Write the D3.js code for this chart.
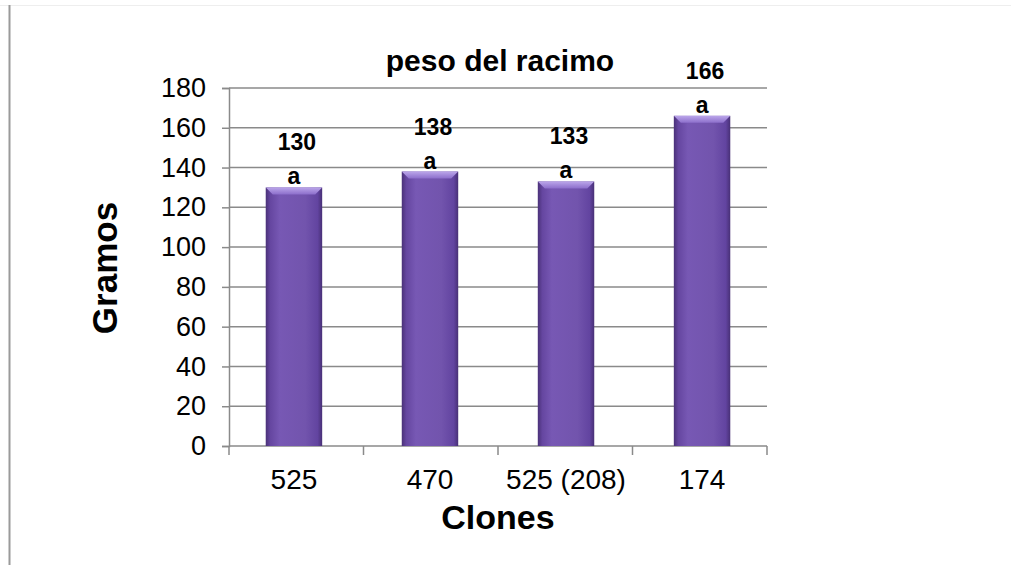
<!DOCTYPE html>
<html>
<head>
<meta charset="utf-8">
<script src="https://cdn.jsdelivr.net/npm/d3@7"></script>
<style>
  html, body { margin: 0; padding: 0; background: #fff; }
  svg { display: block; }
  .tick text { font-family: Arial, "Liberation Sans", sans-serif; font-size: 27px; fill: #000; }
  .cond { font-family: "Liberation Sans Narrow", "Arial Narrow", "Liberation Sans", sans-serif; font-weight: bold; }
  .lbl { font-family: Arial, "Liberation Sans", sans-serif; }
</style>
</head>
<body>
<svg id="chart" width="1011" height="565"></svg>
<script>
// Bunch weight per clone (grams) with significance letters
const clones = ["525", "470", "525 (208)", "174"];
const weights = [130, 138, 133, 166];
const letters = ["a", "a", "a", "a"];
const yTicks = [0, 20, 40, 60, 80, 100, 120, 140, 160, 180];

const svg = d3.select("#chart");
const W = 1011, H = 565;
const plot = { left: 229, right: 767, top: 88, bottom: 446 };

// frame edges
svg.append("line").attr("x1", 0).attr("x2", W).attr("y1", 5.5).attr("y2", 5.5)
  .attr("stroke", "#eeeeee").attr("stroke-width", 1);
svg.append("line").attr("x1", 9.5).attr("x2", 9.5).attr("y1", 5).attr("y2", H)
  .attr("stroke", "#9a9a9a").attr("stroke-width", 2);

const x = d3.scaleBand().domain(clones).range([plot.left, plot.right]).paddingInner(0.585).paddingOuter(0.27);
const y = d3.scaleLinear().domain([0, 180]).range([plot.bottom, plot.top]);

// gradients for bevelled bars
const defs = svg.append("defs");
const gH = defs.append("linearGradient").attr("id", "barH").attr("x1", 0).attr("x2", 1).attr("y1", 0).attr("y2", 0);
[["0%", "#4a3178"], ["8%", "#6546a0"], ["25%", "#7758b4"], ["70%", "#7254ad"], ["92%", "#6244a0"], ["100%", "#483076"]]
  .forEach(([o, c]) => gH.append("stop").attr("offset", o).attr("stop-color", c));
const gT = defs.append("linearGradient").attr("id", "barT").attr("x1", 0).attr("x2", 0).attr("y1", 0).attr("y2", 1);
[["0%", "#bba6ea"], ["100%", "#8c6ecb"]]
  .forEach(([o, c]) => gT.append("stop").attr("offset", o).attr("stop-color", c));

// horizontal gridlines
svg.append("g").selectAll("line").data(yTicks.filter(d => d > 0)).join("line")
  .attr("x1", plot.left).attr("x2", plot.right)
  .attr("y1", d => y(d)).attr("y2", d => y(d))
  .attr("stroke", "#8a8a8a").attr("stroke-width", 1.5);

// y axis
const yAxis = svg.append("g").attr("transform", `translate(${plot.left},0)`)
  .call(d3.axisLeft(y).tickValues(yTicks).tickSize(7).tickPadding(16));
yAxis.select(".domain").attr("stroke", "#8a8a8a").attr("stroke-width", 1.5);
yAxis.selectAll(".tick line").attr("stroke", "#8a8a8a").attr("stroke-width", 1.5);

// x axis baseline and category boundary ticks
const xAxisG = svg.append("g").attr("transform", `translate(0,${plot.bottom})`);
xAxisG.append("line").attr("x1", plot.left).attr("x2", plot.right)
  .attr("stroke", "#8a8a8a").attr("stroke-width", 1.5);
const bounds = d3.range(clones.length + 1).map(i => plot.left + i * (plot.right - plot.left) / clones.length);
xAxisG.selectAll("line.b").data(bounds).join("line").attr("class", "b")
  .attr("x1", d => d).attr("x2", d => d).attr("y1", 0).attr("y2", 9)
  .attr("stroke", "#8a8a8a").attr("stroke-width", 1.5);
xAxisG.selectAll("text").data(clones).join("text").attr("class", "lbl")
  .attr("x", d => x(d) + x.bandwidth() / 2).attr("y", 43)
  .attr("text-anchor", "middle").style("font-size", "28px")
  .text(d => d);

// bars with a light bevel along the top edge
const bars = svg.append("g").selectAll("g").data(clones.map((c, i) => ({ c, v: weights[i], l: letters[i] }))).join("g");
bars.append("rect")
  .attr("x", d => x(d.c)).attr("width", x.bandwidth())
  .attr("y", d => y(d.v)).attr("height", d => y(0) - y(d.v))
  .attr("fill", "url(#barH)");
bars.append("path")
  .attr("d", d => {
    const x0 = x(d.c), x1 = x0 + x.bandwidth(), t = y(d.v), b = 7;
    return `M${x0},${t}L${x1},${t}L${x1 - b},${t + b}L${x0 + b},${t + b}Z`;
  })
  .attr("fill", "url(#barT)");

// letter and value labels above each bar
bars.append("text").attr("class", "cond")
  .attr("x", d => x(d.c) + x.bandwidth() / 2).attr("y", d => y(d.v) - 3)
  .attr("text-anchor", "middle").style("font-size", "23px").text(d => d.l);
bars.append("text").attr("class", "cond")
  .attr("x", d => x(d.c) + x.bandwidth() / 2 + 3).attr("y", d => y(d.v) - 37)
  .attr("text-anchor", "middle").style("font-size", "23px").text(d => d.v);

// titles
svg.append("text").attr("class", "cond")
  .attr("x", 500).attr("y", 71).attr("text-anchor", "middle")
  .style("font-size", "30px").text("peso del racimo");
svg.append("text").attr("class", "lbl")
  .attr("x", 498).attr("y", 529).attr("text-anchor", "middle")
  .style("font-weight", "bold").style("font-size", "34px")
  .text("Clones");
svg.append("text").attr("class", "lbl")
  .attr("transform", "translate(117,268) rotate(-90)").attr("text-anchor", "middle")
  .style("font-weight", "bold").style("font-size", "35px")
  .text("Gramos");
</script>
</body>
</html>
